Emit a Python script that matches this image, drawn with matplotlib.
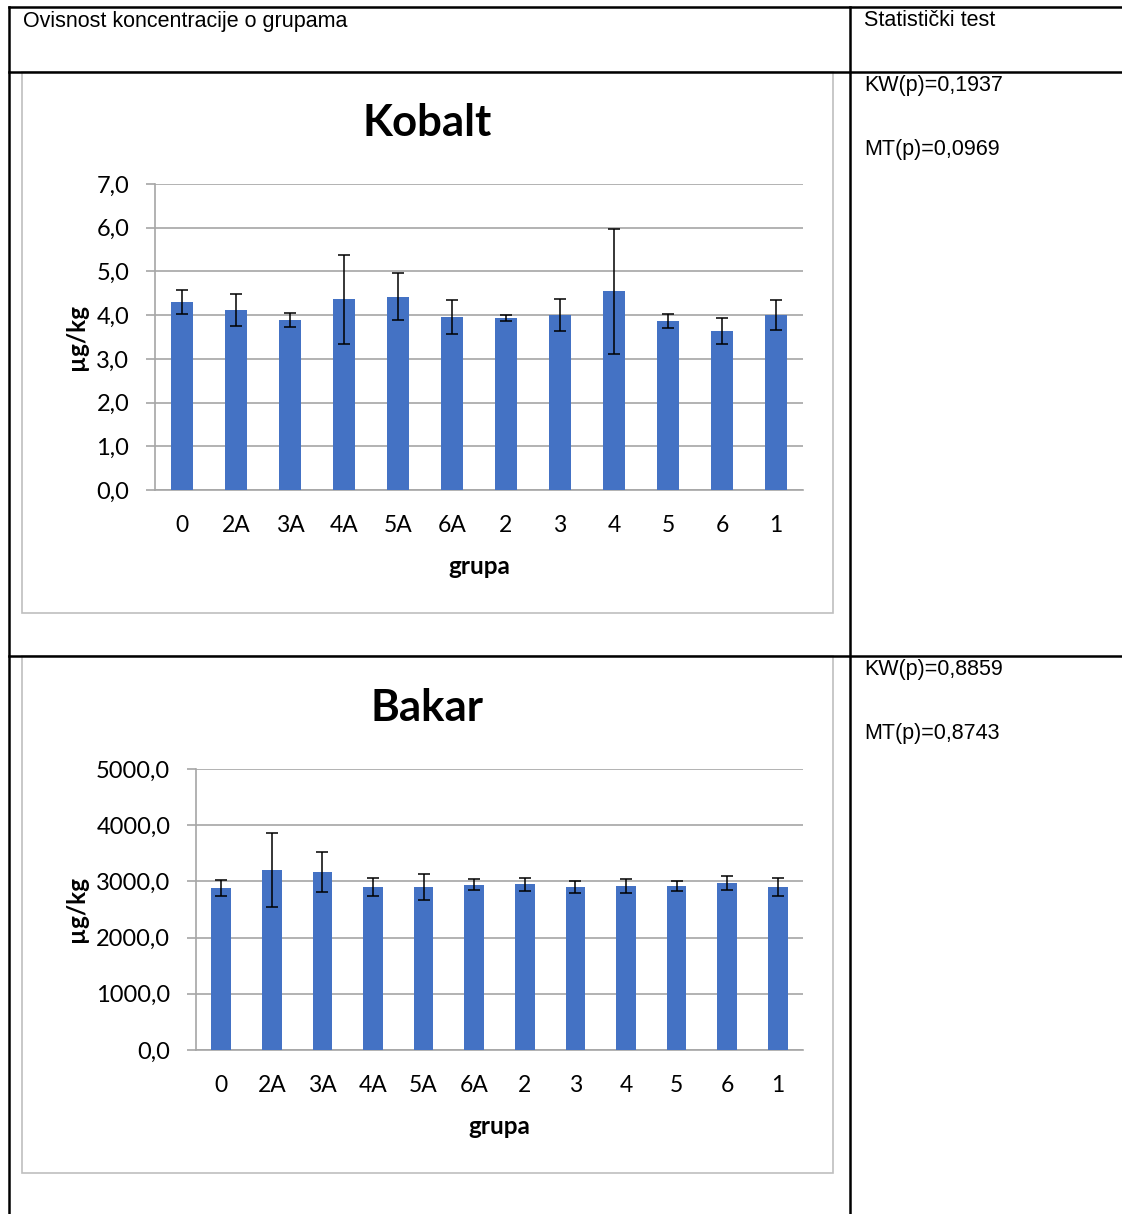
import matplotlib
matplotlib.use("Agg")
import matplotlib.pyplot as plt
from matplotlib.lines import Line2D
from matplotlib.patches import Rectangle
from matplotlib.ticker import FuncFormatter

# podaci očitani sa slike
grupe = ["0", "2A", "3A", "4A", "5A", "6A", "2", "3", "4", "5", "6", "1"]
kobalt_mean = [4.30, 4.12, 3.88, 4.36, 4.42, 3.96, 3.94, 4.00, 4.55, 3.87, 3.63, 4.00]
kobalt_err = [0.27, 0.36, 0.16, 1.01, 0.54, 0.39, 0.07, 0.37, 1.43, 0.16, 0.30, 0.34]
bakar_mean = [2885, 3199, 3164, 2903, 2903, 2944, 2950, 2903, 2915, 2915, 2968, 2903]
bakar_err = [140, 655, 353, 166, 237, 95, 119, 110, 122, 92, 124, 166]

kobalt_ticks = [0, 1, 2, 3, 4, 5, 6, 7]
bakar_ticks = [0, 1000, 2000, 3000, 4000, 5000]

header_left = "Ovisnost koncentracije o grupama"
header_right = "Statistički test"
kobalt_tests = ["KW(p)=0,1937", "MT(p)=0,0969"]
bakar_tests = ["KW(p)=0,8859", "MT(p)=0,8743"]

W, H = 1122, 1214
BAR_COLOR = "#4472C4"
GRID_COLOR = "#a6a6a6"
CHART_FONT = ["Lato", "DejaVu Sans"]
TABLE_FONT = ["Liberation Sans", "DejaVu Sans"]


def fx(x):
    return x / W


def fy(y):
    return 1 - y / H


def comma_fmt(v, pos):
    return f"{v:.1f}".replace(".", ",")


def draw_chart(fig, rect, frame, title, title_y, means, errs, ticks, ylabel_x, xlabel_y):
    l, t, r, b = rect
    # okvir grafikona
    fl, ft, fr, fb = frame
    fig.patches.append(Rectangle((fx(fl), fy(fb)), fx(fr - fl), (fb - ft) / H,
                                 transform=fig.transFigure, fill=False,
                                 edgecolor="#bfbfbf", linewidth=1.2))

    ax = fig.add_axes([fx(l), fy(b), fx(r - l), (b - t) / H])
    x = list(range(len(grupe)))
    ax.bar(x, means, width=0.39, color=BAR_COLOR, zorder=3,
           yerr=errs, error_kw=dict(ecolor="black", elinewidth=1.1,
                                    capsize=4.3, capthick=1.1, zorder=4))
    ax.set_xlim(-0.5, len(grupe) - 0.5)
    ax.set_ylim(ticks[0], ticks[-1])
    ax.set_yticks(ticks)
    ax.yaxis.set_major_formatter(FuncFormatter(comma_fmt))
    ax.set_xticks(x)
    ax.set_xticklabels(grupe)
    ax.grid(axis="y", color=GRID_COLOR, linewidth=1.2, zorder=0)
    for s in ["top", "right"]:
        ax.spines[s].set_visible(False)
    ax.spines["left"].set_color(GRID_COLOR)
    ax.spines["bottom"].set_color(GRID_COLOR)
    ax.spines["left"].set_linewidth(1.2)
    ax.spines["bottom"].set_linewidth(1.2)
    ax.tick_params(axis="y", length=6.5, color=GRID_COLOR, width=1.2, pad=12,
                   labelsize=17, labelcolor="black")
    ax.tick_params(axis="x", length=0, pad=18, labelsize=16.5)
    for lab in ax.get_xticklabels() + ax.get_yticklabels():
        lab.set_family(CHART_FONT)

    fig.text(fx((fl + fr) / 2), fy(title_y), title, ha="center", va="center",
             fontsize=31.5, fontweight="bold", family=CHART_FONT)
    fig.text(fx((l + r) / 2), fy(xlabel_y), "grupa", ha="center", va="center",
             fontsize=17.5, fontweight="bold", family=CHART_FONT)
    fig.text(fx(ylabel_x), fy((t + b) / 2), "µg/kg", ha="center", va="center",
             rotation=90, fontsize=17.5, fontweight="bold", family=CHART_FONT)
    return ax


def main():
    fig = plt.figure(figsize=(W / 100, H / 100), dpi=100)
    fig.patch.set_facecolor("white")

    # linije tablice
    lw = 1.8
    table_lines = [
        ((9, W), (7, 7)),
        ((9, W), (72, 72)),
        ((9, W), (656, 656)),
        ((9, 9), (7, H)),
        ((850, 850), (7, H)),
    ]
    for xs, ys in table_lines:
        fig.add_artist(Line2D([fx(v) for v in xs], [fy(v) for v in ys],
                              transform=fig.transFigure, color="black", linewidth=lw))

    fs = 15.5
    fig.text(fx(23), fy(21), header_left, ha="left", va="center",
             fontsize=fs, family=TABLE_FONT)
    fig.text(fx(864), fy(21), header_right, ha="left", va="center",
             fontsize=fs, family=TABLE_FONT)
    for i, s in enumerate(kobalt_tests):
        fig.text(fx(864), fy(85 + 64 * i), s, ha="left", va="center",
                 fontsize=fs, family=TABLE_FONT)
    for i, s in enumerate(bakar_tests):
        fig.text(fx(864), fy(670 + 64 * i), s, ha="left", va="center",
                 fontsize=fs, family=TABLE_FONT)

    draw_chart(fig, (155, 184, 803, 490), (22, 72, 833, 613), "Kobalt", 123,
               kobalt_mean, kobalt_err, kobalt_ticks, 77, 567)
    draw_chart(fig, (196, 769, 803, 1050), (22, 656, 833, 1173), "Bakar", 708,
               bakar_mean, bakar_err, bakar_ticks, 77, 1127)

    fig.savefig("out.png", dpi=100)
    plt.close(fig)


if __name__ == "__main__":
    main()
